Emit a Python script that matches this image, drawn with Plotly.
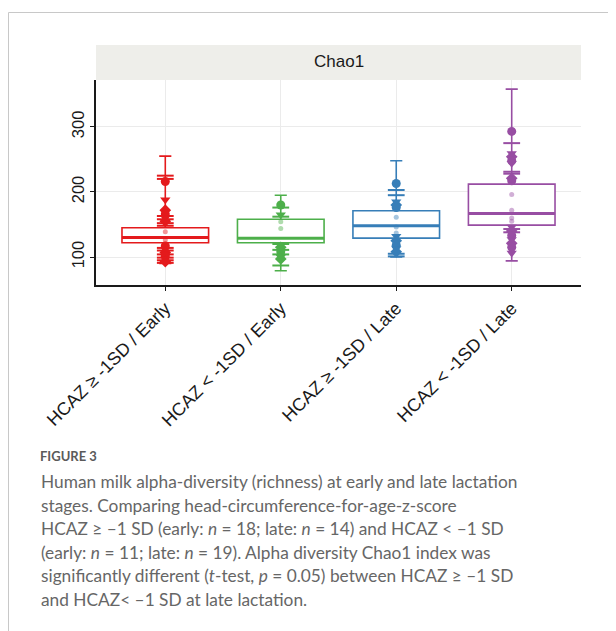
import plotly.graph_objects as go

# ---------------- data ----------------
categories = ["HCAZ ≥ -1SD / Early", "HCAZ < -1SD / Early",
              "HCAZ ≥ -1SD / Late", "HCAZ < -1SD / Late"]
lower_fence = [90, 79, 100, 94]
q1_vals = [122, 122, 129, 149]
median_vals = [130, 129, 148, 167]
q3_vals = [145, 158, 171, 212]
upper_fence = [255, 195, 248, 358]

points_red = [216, 188, 172, 166, 160, 155, 117, 112, 107, 102, 97, 93]
points_green = [180, 165, 115, 108, 100, 97]
points_blue = [213, 185, 180, 176, 132, 125, 118, 113, 108]
points_purple = [293, 259, 254, 248, 244, 221, 217, 146, 140, 133, 127, 121, 115, 106]

ticks_red = [225, 220, 163, 158, 152, 148, 114, 110, 104, 99, 95, 91]
ticks_green = [176, 162, 120, 111, 104, 87]
ticks_blue = [203, 195, 105, 101]
ticks_purple = [275, 231, 228, 143, 138]

faint_red = [139, 126]
faint_green = [154, 144]
faint_blue = [161, 146, 137]
faint_purple = [196, 172, 160, 155]

points = [points_red, points_green, points_blue, points_purple]
ticks = [ticks_red, ticks_green, ticks_blue, ticks_purple]
faint = [faint_red, faint_green, faint_blue, faint_purple]

strip_title = "Chao1"
y_tick_vals = [100, 200, 300]

caption_head = "FIGURE 3"
caption_lines = [
    "Human milk alpha-diversity (richness) at early and late lactation",
    "stages. Comparing head-circumference-for-age-z-score",
    "HCAZ ≥ –1 SD (early: <i>n</i> = 18; late: <i>n</i> = 14) and HCAZ &lt; –1 SD",
    "(early: <i>n</i> = 11; late: <i>n</i> = 19). Alpha diversity Chao1 index was",
    "significantly different (<i>t</i>-test, <i>p</i> = 0.05) between HCAZ ≥ –1 SD",
    "and HCAZ&lt; –1 SD at late lactation.",
]

# ---------------- style ----------------
colors = ["#E41A1C", "#4DAF4A", "#377EB8", "#984EA3"]
faint_colors = ["rgba(228,26,28,0.45)", "rgba(77,175,74,0.45)",
                "rgba(55,126,184,0.45)", "rgba(152,78,163,0.45)"]
sym_cycle = ["circle", "triangle-down", "diamond"]
box_w = 0.75

OFF = 8  # page body margin
W, H = 616 - OFF, 631 - OFF
WL, WR, WT, WB = 96, 581, 80, 285
L, R, T, B = WL - OFF, WR - OFF, WT - OFF, WB - OFF


def px(xw):
    return (xw - WL) / (WR - WL)


def py(yw):
    return (WB - yw) / (WB - WT)


fig = go.Figure()
for i, cat in enumerate(categories):
    xpos = i + 1
    fig.add_trace(go.Box(
        x=[xpos], q1=[q1_vals[i]], median=[median_vals[i]], q3=[q3_vals[i]],
        lowerfence=[lower_fence[i]], upperfence=[upper_fence[i]],
        width=box_w, whiskerwidth=0.14, fillcolor="rgba(255,255,255,1)",
        line=dict(color=colors[i], width=1.6), boxpoints=False,
        showlegend=False, hoverinfo="skip"))
    fig.add_trace(go.Scatter(
        x=[xpos - box_w / 2, xpos + box_w / 2],
        y=[median_vals[i], median_vals[i]], mode="lines",
        line=dict(color=colors[i], width=3), showlegend=False, hoverinfo="skip"))
    fig.add_trace(go.Scatter(
        x=[xpos] * len(faint[i]), y=faint[i], mode="markers",
        marker=dict(color=faint_colors[i], size=5),
        showlegend=False, hoverinfo="skip"))
    fig.add_trace(go.Scatter(
        x=[xpos] * len(ticks[i]), y=ticks[i], mode="markers",
        marker=dict(symbol="line-ew", size=12,
                    line=dict(color=colors[i], width=2)),
        showlegend=False, hoverinfo="skip"))
    syms = [sym_cycle[k % len(sym_cycle)] for k in range(len(points[i]))]
    fig.add_trace(go.Scatter(
        x=[xpos] * len(points[i]), y=points[i], mode="markers",
        marker=dict(color=colors[i], size=9, symbol=syms),
        showlegend=False, hoverinfo="skip"))

shapes = [
    dict(type="rect", xref="paper", yref="paper", x0=0, x1=1,
         y0=1.0, y1=py(45), fillcolor="#EEEEEA", line=dict(width=0), layer="below"),
    dict(type="line", xref="paper", yref="paper", x0=px(8.5), x1=px(620),
         y0=py(12.5), y1=py(12.5), line=dict(color="#C8C8C8", width=1)),
    dict(type="line", xref="paper", yref="paper", x0=px(8.5), x1=px(8.5),
         y0=py(12.5), y1=py(640), line=dict(color="#C8C8C8", width=1)),
]

annotations = [
    dict(text=strip_title, xref="paper", yref="paper", x=0.5, y=py(62),
         showarrow=False, xanchor="center", yanchor="middle",
         font=dict(family="Liberation Sans, Arial", size=17, color="#1a1a1a")),
    dict(text="<b>" + caption_head + "</b>", xref="paper", yref="paper",
         x=px(38), y=py(456), showarrow=False, xanchor="left", yanchor="middle",
         font=dict(family="Lato", size=13, color="#5a5a5a")),
]
line_y = [481.5, 505, 528.6, 552.2, 575.8, 599.4]
for txt, ly in zip(caption_lines, line_y):
    annotations.append(dict(
        text=txt, xref="paper", yref="paper", x=px(38.5), y=py(ly),
        showarrow=False, xanchor="left", yanchor="middle",
        font=dict(family="Lato", size=17.3, color="#666666")))

fig.update_layout(
    width=W, height=H,
    margin=dict(l=L, r=W - R, t=T, b=H - B, pad=0),
    paper_bgcolor="white", plot_bgcolor="white",
    boxmode="overlay",
    shapes=shapes, annotations=annotations,
    xaxis=dict(range=[0.4, 4.6], tickmode="array",
               tickvals=[1, 2, 3, 4], ticktext=categories, tickangle=-45,
               showgrid=True, gridcolor="#EBEBEB", gridwidth=1.2,
               showline=True, linecolor="#1a1a1a", linewidth=1.5,
               ticks="outside", ticklen=4, tickwidth=1.2, tickcolor="#1a1a1a",
               zeroline=False,
               tickfont=dict(family="Liberation Sans, Arial", size=18, color="#1a1a1a")),
    yaxis=dict(range=[57, 372], tickmode="array", tickvals=y_tick_vals,
               tickangle=-90,
               showgrid=True, gridcolor="#EBEBEB", gridwidth=1.2,
               showline=True, linecolor="#1a1a1a", linewidth=1.5,
               ticks="outside", ticklen=4, tickwidth=1.2, tickcolor="#1a1a1a",
               zeroline=False,
               tickfont=dict(family="Liberation Sans, Arial", size=16.5, color="#1a1a1a")),
)

fig.write_html("out.html")
